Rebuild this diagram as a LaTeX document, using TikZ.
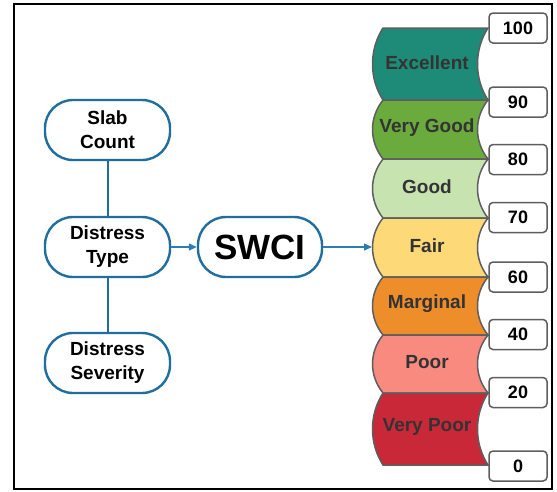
\documentclass[tikz,border=0pt]{standalone}
\usepackage{fontspec}
\setmainfont{Liberation Sans}
\usetikzlibrary{arrows.meta}
\definecolor{nodeblue}{HTML}{1F6E9E}
\definecolor{arrblue}{HTML}{2A7DB5}
\definecolor{cExc}{HTML}{1E8B78}
\definecolor{cVG}{HTML}{6BAA3C}
\definecolor{cGood}{HTML}{C6E3B0}
\definecolor{cFair}{HTML}{FDD977}
\definecolor{cMarg}{HTML}{EE8E2B}
\definecolor{cPoor}{HTML}{F98A7F}
\definecolor{cVP}{HTML}{C92838}
\definecolor{barline}{HTML}{5E5E5E}
\definecolor{bartext}{HTML}{333333}
\tikzset{
  lnode/.style={draw=nodeblue, line width=2.4pt, fill=white, rounded corners=28pt,
    minimum width=125pt, minimum height=60pt, align=center,
    font=\fontsize{19}{24}\selectfont\bfseries, inner sep=0pt},
  vbox/.style={draw=barline, line width=1.5pt, fill=white, rounded corners=4pt,
    minimum width=58pt, minimum height=30pt, inner sep=0pt,
    font=\fontsize{18}{20}\selectfont\bfseries},
  barshape/.style={draw=barline, line width=1.5pt},
  blabel/.style={font=\fontsize{19}{22}\selectfont\bfseries, text=bartext, inner sep=0pt},
  conn/.style={draw=nodeblue, line width=2pt},
  arr/.style={draw=arrblue, line width=1.4pt, -{Triangle[length=8pt,width=7pt]}}
}
\begin{document}
\begin{tikzpicture}[x=1pt,y=-1pt]
\useasboundingbox (0,0) rectangle (557,491);
\fill[white] (0,0) rectangle (557,491);
\draw[line width=2.5pt] (14,4) rectangle (552,489);

% bars
\foreach \t/\b/\c in {28/100/cExc, 100/159/cVG, 159/218/cGood, 218/277/cFair, 277/335/cMarg, 335/393/cPoor, 393/465/cVP}{
  \draw[barshape, fill=\c] (383,\t) -- (488,\t)
    .. controls (474,{\t+0.3*(\b-\t)}) and (474,{\b-0.3*(\b-\t)}) .. (488,\b)
    -- (383,\b)
    .. controls (369,{\b-0.3*(\b-\t)}) and (369,{\t+0.3*(\b-\t)}) .. (383,\t) -- cycle;
}
\node[blabel] (lExc) at (427,63) {Excellent};
\node[blabel] (lVG) at (427,128) {Very Good};
\node[blabel] (lGood) at (427,187) {Good};
\node[blabel] (lFair) at (427,246) {Fair};
\node[blabel] (lMarg) at (427,304) {Marginal};
\node[blabel] (lPoor) at (427,362) {Poor};
\node[blabel] (lVP) at (427,427) {Very Poor};

% value boxes
\node[vbox] (v100) at (518,28) {100};
\node[vbox] (v90) at (518,102) {90};
\node[vbox] (v80) at (518,159.5) {80};
\node[vbox] (v70) at (518,217.5) {70};
\node[vbox] (v60) at (518,277) {60};
\node[vbox] (v40) at (518,334.5) {40};
\node[vbox] (v20) at (518,392.5) {20};
\node[vbox] (v0) at (518,466) {0};

% left nodes
\node[lnode] (slab) at (107.5,130) {Slab\\Count};
\node[lnode] (dtype) at (107.5,247) {Distress\\Type};
\node[lnode] (dsev) at (107.5,363) {Distress\\Severity};
\node[lnode, minimum width=124pt, font=\fontsize{35}{38}\selectfont\bfseries] (swci) at (260,247) {SWCI};
\coordinate (fairL) at (372,247);

\draw[conn] (slab) -- (dtype);
\draw[conn] (dtype) -- (dsev);
\draw[arr] (dtype) -- (swci);
\draw[arr] (swci) -- (fairL);
\end{tikzpicture}
\end{document}
